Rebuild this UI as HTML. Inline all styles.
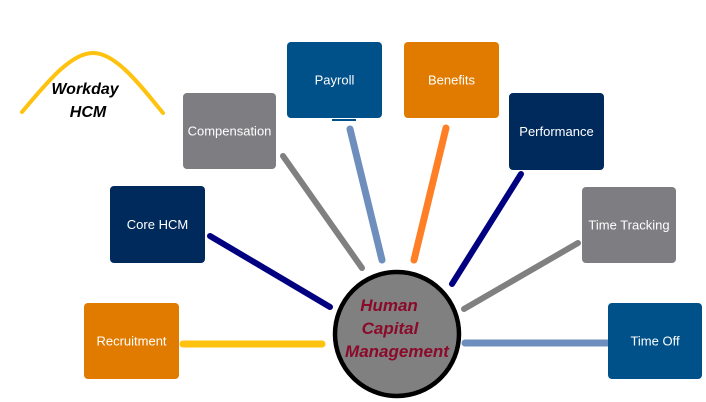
<!DOCTYPE html>
<html>
<head>
<meta charset="utf-8">
<style>
html,body{margin:0;padding:0;background:#fff;}
svg{display:block;}
.bt{font-family:"Liberation Sans",sans-serif;font-size:13px;fill:#fff;text-anchor:middle;}
.wd{font-family:"Liberation Sans",sans-serif;font-size:16px;font-weight:bold;font-style:italic;fill:#000;text-anchor:middle;}
.hc{font-family:"Liberation Sans",sans-serif;font-size:17px;font-weight:bold;font-style:italic;fill:#8B0A2A;text-anchor:middle;}
</style>
</head>
<body>
<svg width="706" height="402" viewBox="0 0 706 402" xmlns="http://www.w3.org/2000/svg">
  <rect width="706" height="402" fill="#fff"/>
  <!-- Workday arch -->
  <path d="M22,112 C45,85 70,53 93,53 C116,53 140,85 163,113" fill="none" stroke="#FFC20E" stroke-width="4" stroke-linecap="round"/>
  <text class="wd" x="85" y="94">Workday</text>
  <text class="wd" x="88" y="117">HCM</text>

  <!-- connectors -->
  <g stroke-linecap="round" fill="none">
    <line x1="183" y1="344" x2="322" y2="344" stroke="#FFC20E" stroke-width="7"/>
    <line x1="210" y1="236" x2="330" y2="307" stroke="#000080" stroke-width="6"/>
    <line x1="283" y1="156" x2="362" y2="268" stroke="#808080" stroke-width="6"/>
    <line x1="350" y1="129" x2="382" y2="260" stroke="#6E8EBD" stroke-width="7"/>
    <line x1="446" y1="128" x2="414" y2="260" stroke="#FF7F27" stroke-width="7"/>
    <line x1="521" y1="174" x2="452" y2="284" stroke="#000080" stroke-width="6"/>
    <line x1="578" y1="243" x2="464" y2="309" stroke="#808080" stroke-width="6"/>
    <line x1="465" y1="343" x2="607" y2="343" stroke="#6E8EBD" stroke-width="7"/>
  </g>

  <!-- boxes -->
  <rect x="84" y="303" width="95" height="76" rx="4" fill="#E07B00"/>
  <text class="bt" x="131.5" y="345.5">Recruitment</text>

  <rect x="110" y="186" width="95" height="77" rx="4" fill="#002A5C"/>
  <text class="bt" x="157.5" y="229">Core HCM</text>

  <rect x="183" y="93" width="93" height="76" rx="4" fill="#7E7E82"/>
  <text class="bt" x="229.5" y="135.5">Compensation</text>

  <rect x="287" y="42" width="95" height="76" rx="4" fill="#00508A"/>
  <rect x="332" y="119" width="24" height="2" fill="#00508A"/>
  <text class="bt" x="334.5" y="84.5">Payroll</text>

  <rect x="404" y="42" width="95" height="76" rx="4" fill="#E07B00"/>
  <text class="bt" x="451.5" y="84.5">Benefits</text>

  <rect x="509" y="93" width="95" height="77" rx="4" fill="#002A5C"/>
  <text class="bt" x="556.5" y="136">Performance</text>

  <rect x="582" y="187" width="94" height="76" rx="4" fill="#7E7E82"/>
  <text class="bt" x="629" y="229.5">Time Tracking</text>

  <rect x="608" y="303" width="94" height="76" rx="4" fill="#00508A"/>
  <text class="bt" x="655" y="345.5">Time Off</text>

  <!-- center circle -->
  <circle cx="397" cy="334" r="62" fill="#808080" stroke="#000" stroke-width="4.5"/>
  <text class="hc" x="389" y="311">Human</text>
  <text class="hc" x="390" y="334">Capital</text>
  <text class="hc" x="397" y="357">Management</text>
</svg>
</body>
</html>
